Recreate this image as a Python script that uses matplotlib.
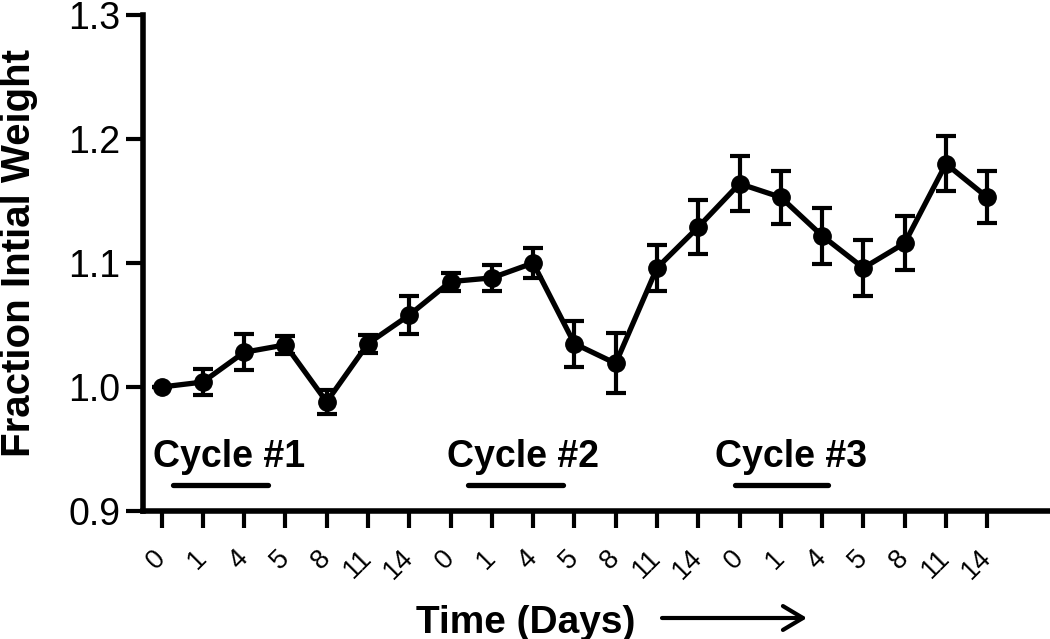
import matplotlib
matplotlib.use('Agg')
import matplotlib.pyplot as plt
import numpy as np

plt.rcParams['font.family'] = ['Liberation Sans', 'DejaVu Sans']

# dias de coleta (três ciclos)
dias = ['0', '1', '4', '5', '8', '11', '14',
        '0', '1', '4', '5', '8', '11', '14',
        '0', '1', '4', '5', '8', '11', '14']
peso = [1.000, 1.004, 1.028, 1.034, 0.988, 1.035, 1.058,
        1.085, 1.088, 1.100, 1.035, 1.019, 1.096, 1.129,
        1.164, 1.153, 1.122, 1.096, 1.116, 1.180, 1.153]
erro = [0.000, 0.0105, 0.0145, 0.0073, 0.0094, 0.0073, 0.0153,
        0.0073, 0.0105, 0.012, 0.0185, 0.0242, 0.0185, 0.0215,
        0.0222, 0.0215, 0.0226, 0.0228, 0.0218, 0.0222, 0.021]
ciclos = ['Cycle #1', 'Cycle #2', 'Cycle #3']

x = np.arange(len(dias))

fig = plt.figure(figsize=(10.5, 6.39), dpi=100)
ax = fig.add_axes([0.1362, 0.2003, 0.8638, 0.7762])

ax.errorbar(x, peso, yerr=erro, fmt='-o', color='black', lw=3.8, ms=12.5,
            elinewidth=3, capsize=7, capthick=3, clip_on=False, zorder=3)

# rótulos dos ciclos com barra embaixo
texto_x = [-0.21, 6.91, 13.41]
barras = [(0.28, 2.58), (7.42, 9.72), (13.89, 16.15)]
for nome, tx, (b0, b1) in zip(ciclos, texto_x, barras):
    ax.text(tx, 0.9355, nome, fontsize=27, fontweight='bold', va='baseline', ha='left')
    ax.plot([b0, b1], [0.921, 0.921], color='black', lw=3.8, solid_capstyle='round')

ax.set_xlim(-0.448, 21.52)
ax.set_ylim(0.9, 1.3)
ax.set_yticks([0.9, 1.0, 1.1, 1.2, 1.3])
ax.set_yticklabels(['0.9', '1.0', '1.1', '1.2', '1.3'])
ax.set_xticks(x)
ax.set_xticklabels(dias, rotation=45, ha='right', va='center', rotation_mode='anchor')

for s in ['top', 'right']:
    ax.spines[s].set_visible(False)
for s in ['left', 'bottom']:
    ax.spines[s].set_linewidth(4)

ax.tick_params(axis='y', length=12, width=3, labelsize=27, pad=4.5)
ax.tick_params(axis='x', length=12, width=3, labelsize=19.5, pad=19)

fig.text(19 / 1050, 1 - 253 / 639, 'Fraction Intial Weight', rotation=90,
         fontsize=29, fontweight='bold', ha='center', va='center')
fig.text(526 / 1050, 6 / 639, 'Time (Days)', fontsize=28, fontweight='bold',
         ha='center', va='baseline')

# seta do tempo
ax.annotate('', xy=(807 / 1050, 21 / 639), xytext=(662 / 1050, 21 / 639),
            xycoords='figure fraction', textcoords='figure fraction',
            arrowprops=dict(arrowstyle='->,head_length=0.72,head_width=0.43',
                            lw=3, color='black', mutation_scale=20,
                            shrinkA=0, shrinkB=0))

plt.savefig('out.png', dpi=100)
plt.close()
